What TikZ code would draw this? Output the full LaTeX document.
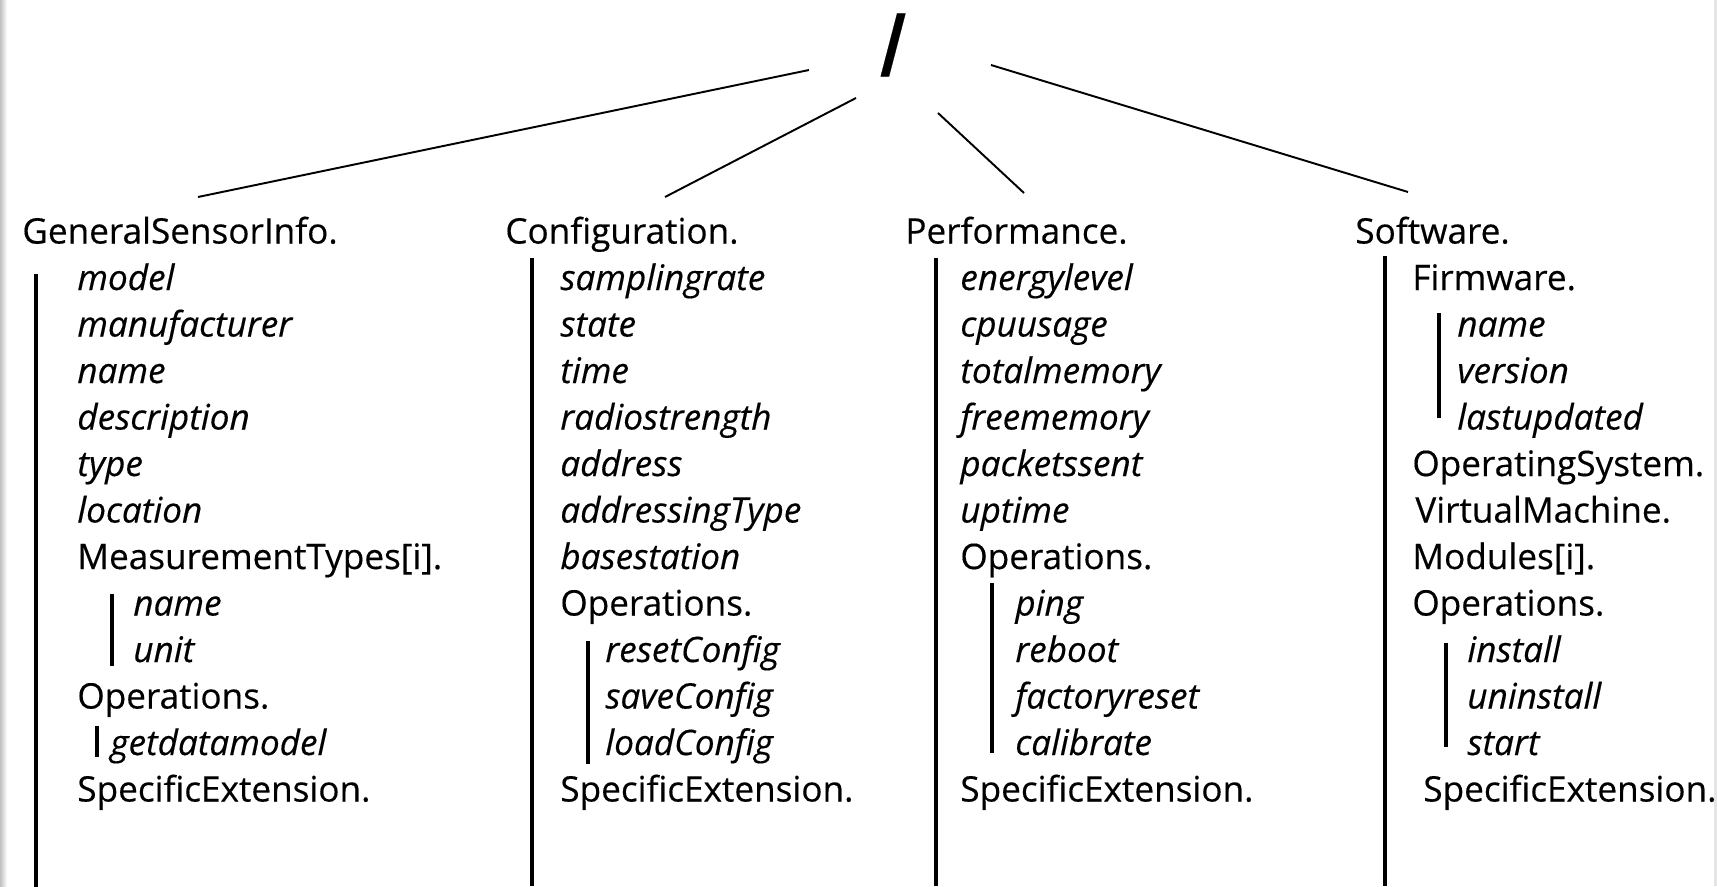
\documentclass[tikz,border=0pt]{standalone}
\usepackage{fontspec}
\setmainfont{Open Sans}[FakeBold=0.35]
\usetikzlibrary{calc,positioning}
\tikzstyle{head} = [anchor=base west,inner sep=0pt,font=\fontsize{20}{24}\selectfont]
\tikzstyle{attr} = [anchor=base west,inner sep=0pt,font=\fontsize{20}{24}\selectfont\itshape]
\tikzstyle{bar} = [line width=1.8pt]
\tikzstyle{link} = [line width=1.1pt]

\begin{document}
\begin{tikzpicture}[x=0.02cm,y=-0.02cm]
    \useasboundingbox (0,0) rectangle (1717,886);
    \shade[left color=black!25,right color=white] (0,0) rectangle (7,886);
    \fill[black!10] (1714,0) rectangle (1717,886);

    \node[inner sep=0pt,font=\fontsize{50}{50}\selectfont\bfseries] (root) at (893,45) {\scalebox{0.7}[1]{/}};

    % GeneralSensorInfo
    \node[head] (gsi) at (22,243.5) {GeneralSensorInfo.};
    \node[attr] (gsi-model) at (77,290) {model};
    \node[attr] (gsi-manuf) at (77,336.5) {manufacturer};
    \node[attr] (gsi-name) at (77,383) {name};
    \node[attr] (gsi-descr) at (77,429.5) {description};
    \node[attr] (gsi-type) at (77,476) {type};
    \node[attr] (gsi-loc) at (77,522.5) {location};
    \node[head] (gsi-mtypes) at (77,569) {MeasurementTypes[i].};
    \node[attr] (gsi-mname) at (133,615.5) {name};
    \node[attr] (gsi-munit) at (133,662) {unit};
    \node[head] (gsi-ops) at (77,708.5) {Operations.};
    \node[attr] (gsi-getdm) at (110,755) {getdatamodel};
    \node[head] (gsi-ext) at (77,801.5) {SpecificExtension.};

    % Configuration
    \node[head] (conf) at (505,243.5) {Configuration.};
    \node[attr] (conf-rate) at (560,290) {samplingrate};
    \node[attr] (conf-state) at (560,336.5) {state};
    \node[attr] (conf-time) at (560,383) {time};
    \node[attr] (conf-radio) at (560,429.5) {radiostrength};
    \node[attr] (conf-addr) at (560,476) {address};
    \node[attr] (conf-atype) at (560,522.5) {addressingType};
    \node[attr] (conf-base) at (560,569) {basestation};
    \node[head] (conf-ops) at (560,615.5) {Operations.};
    \node[attr] (conf-reset) at (605,662) {resetConfig};
    \node[attr] (conf-save) at (605,708.5) {saveConfig};
    \node[attr] (conf-load) at (605,755) {loadConfig};
    \node[head] (conf-ext) at (560,801.5) {SpecificExtension.};

    % Performance
    \node[head] (perf) at (905,243.5) {Performance.};
    \node[attr] (perf-energy) at (960,290) {energylevel};
    \node[attr] (perf-cpu) at (960,336.5) {cpuusage};
    \node[attr] (perf-total) at (960,383) {totalmemory};
    \node[attr] (perf-free) at (960,429.5) {freememory};
    \node[attr] (perf-sent) at (960,476) {packetssent};
    \node[attr] (perf-up) at (960,522.5) {uptime};
    \node[head] (perf-ops) at (960,569) {Operations.};
    \node[attr] (perf-ping) at (1015,615.5) {ping};
    \node[attr] (perf-reboot) at (1015,662) {reboot};
    \node[attr] (perf-factory) at (1015,708.5) {factoryreset};
    \node[attr] (perf-calib) at (1015,755) {calibrate};
    \node[head] (perf-ext) at (960,801.5) {SpecificExtension.};

    % Software
    \node[head] (soft) at (1355,243.5) {Software.};
    \node[head] (soft-fw) at (1412,290) {Firmware.};
    \node[attr] (soft-name) at (1457,336.5) {name};
    \node[attr] (soft-version) at (1457,383) {version};
    \node[attr] (soft-updated) at (1457,429.5) {lastupdated};
    \node[head] (soft-os) at (1412,476) {OperatingSystem.};
    \node[head] (soft-vm) at (1415,522.5) {VirtualMachine.};
    \node[head] (soft-mod) at (1412,569) {Modules[i].};
    \node[head] (soft-ops) at (1412,615.5) {Operations.};
    \node[attr] (soft-install) at (1467,662) {install};
    \node[attr] (soft-uninstall) at (1467,708.5) {uninstall};
    \node[attr] (soft-start) at (1467,755) {start};
    \node[head] (soft-ext) at (1423,801.5) {SpecificExtension.};

    % root to the four groups
    \coordinate (root-gsi) at ($(root)+(-84,25)$);
    \coordinate (root-conf) at ($(root)+(-37,53)$);
    \coordinate (root-perf) at ($(root)+(45,68)$);
    \coordinate (root-soft) at ($(root)+(98,20)$);
    \draw[link] (root-gsi) -- ($(gsi.base west)+(176,-46.5)$);
    \draw[link] (root-conf) -- ($(conf.base west)+(160,-46.5)$);
    \draw[link] (root-perf) -- ($(perf.base west)+(119,-50.5)$);
    \draw[link] (root-soft) -- ($(soft.base west)+(53,-51.5)$);

    % bars
    \draw[bar] ($(gsi.base west)+(14,30)$) -- ++(0,613);
    \draw[bar] ($(gsi-mname.base west)+(-21,-21.5)$) -- ($(gsi-munit.base west)+(-21,4)$);
    \draw[bar] ($(gsi-getdm.base west)+(-13,-29)$) -- ($(gsi-getdm.base west)+(-13,2)$);
    \draw[bar] ($(conf.base west)+(27,14.5)$) -- ++(0,628);
    \draw[bar] ($(conf-reset.base west)+(-17,-21)$) -- ($(conf-load.base west)+(-17,9)$);
    \draw[bar] ($(perf.base west)+(31,14.5)$) -- ++(0,628);
    \draw[bar] ($(perf-ping.base west)+(-23,-32.5)$) -- ($(perf-calib.base west)+(-23,-2)$);
    \draw[bar] ($(soft.base west)+(30,12.5)$) -- ++(0,630);
    \draw[bar] ($(soft-name.base west)+(-18,-23.5)$) -- ($(soft-updated.base west)+(-18,-11.5)$);
    \draw[bar] ($(soft-install.base west)+(-21,-19)$) -- ($(soft-start.base west)+(-21,-8)$);
\end{tikzpicture}
\end{document}
